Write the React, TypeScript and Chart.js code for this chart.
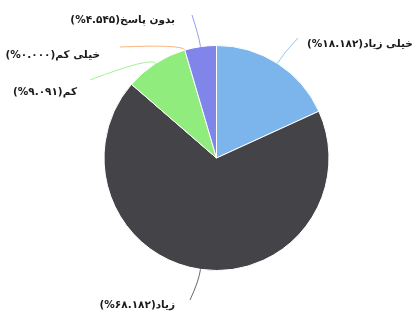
import React, { useEffect, useRef } from "react";
import { Chart, registerables } from "chart.js";

Chart.register(...registerables);

const categories = ["خیلی زیاد", "زیاد", "کم", "خیلی کم", "بدون پاسخ"];
const percentValues = [18.182, 68.182, 9.091, 0, 4.545];
const percentLabels = ["۱۸.۱۸۲", "۶۸.۱۸۲", "۹.۰۹۱", "۰.۰۰۰", "۴.۵۴۵"];
const sliceColors = ["#7cb5ec", "#434348", "#90ed7d", "#f7a35c", "#8085e9"];

// label layout relative to pie centre (px): connector end, text anchor, alignment
const labelLayout = [
  { ex: 81.5, ey: -120, tx: 90.5, ty: -114, align: "left", ext: 14 },
  { ex: -26.5, ey: 142, tx: -41.5, ty: 147, align: "right", ext: 12 },
  { ex: -126.5, ey: -78, tx: -139.5, ty: -66, align: "right", ext: 8 },
  { ex: -96.5, ey: -111, tx: -116.5, ty: -103, align: "right", ext: 6 },
  { ex: -24.5, ey: -143, tx: -41.5, ty: -138, align: "right", ext: 10 },
];

const labelPlugin = {
  id: "outerLabels",
  afterDraw(chart: any) {
    const ctx = chart.ctx;
    const meta = chart.getDatasetMeta(0);
    meta.data.forEach((arc: any, i: number) => {
      const p = arc.getProps(["x", "y", "startAngle", "endAngle", "outerRadius"], true);
      const mid = (p.startAngle + p.endAngle) / 2;
      const r = p.outerRadius;
      const L = labelLayout[i];
      const x1 = p.x + Math.cos(mid) * r;
      const y1 = p.y + Math.sin(mid) * r;
      const cx = p.x + Math.cos(mid) * (r + L.ext);
      const cy = p.y + Math.sin(mid) * (r + L.ext);
      const ex = p.x + L.ex;
      const ey = p.y + L.ey;
      ctx.save();
      ctx.strokeStyle = sliceColors[i];
      ctx.globalAlpha = 0.8;
      ctx.lineWidth = 1;
      ctx.beginPath();
      ctx.moveTo(x1, y1);
      ctx.quadraticCurveTo(cx, cy, ex, ey);
      ctx.stroke();
      ctx.globalAlpha = 1;
      ctx.direction = "rtl";
      ctx.font = "bold 10.5px 'DejaVu Sans'";
      ctx.fillStyle = "#1a1a1a";
      ctx.textAlign = L.align;
      ctx.textBaseline = "middle";
      ctx.fillText(categories[i] + "(" + percentLabels[i] + "%)", p.x + L.tx, p.y + L.ty);
      ctx.restore();
    });
  },
};

export default function App() {
  const ref = useRef<HTMLCanvasElement>(null);
  useEffect(() => {
    document.body.style.margin = "0";
    const chart = new Chart(ref.current!, {
      type: "pie",
      data: {
        labels: categories,
        datasets: [
          {
            data: percentValues,
            backgroundColor: sliceColors,
            borderColor: "#ffffff",
            borderWidth: 1,
            hoverOffset: 0,
          },
        ],
      },
      options: {
        responsive: false,
        animation: false,
        layout: { padding: { top: 45, bottom: 42, left: 103, right: 82 } },
        plugins: { legend: { display: false }, tooltip: { enabled: false } },
      },
      plugins: [labelPlugin],
    });
    return () => chart.destroy();
  }, []);
  return (
    <div style={{ width: 412, height: 313, background: "#fff" }}>
      <canvas ref={ref} width={412} height={313} />
    </div>
  );
}
